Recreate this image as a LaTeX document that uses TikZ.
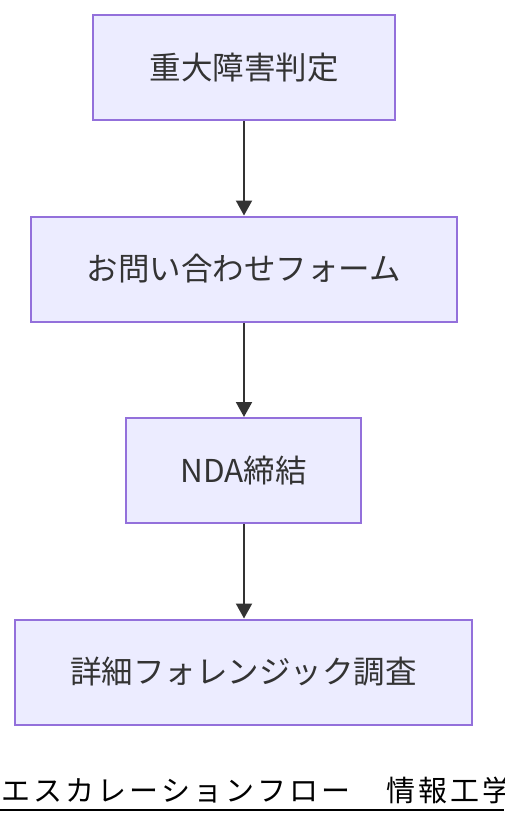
\documentclass[tikz,border=0pt]{standalone}
\usepackage{fontspec}
\setmainfont{Noto Sans CJK JP}
\newfontfamily\capfont[LetterSpace=11]{Noto Sans CJK JP}
\usetikzlibrary{arrows.meta}
\definecolor{boxfill}{HTML}{ECECFF}
\definecolor{boxline}{HTML}{9370DB}
\definecolor{txt}{HTML}{333333}
\tikzset{
  stepbox/.style={draw=boxline, fill=boxfill, line width=2pt, minimum height=105pt, inner sep=0pt, text=txt, font=\fontsize{31.5}{36}\selectfont},
  conn/.style={draw=txt, line width=2pt, -{Triangle[length=15pt,width=16pt]}},
}
\begin{document}
\begin{tikzpicture}[x=1pt,y=-1pt]
\useasboundingbox (0,0) rectangle (504,828);
\node[stepbox, minimum width=302pt] (a) at (244,67.5) {重大障害判定};
\node[stepbox, minimum width=426pt] (b) at (244,269) {お問い合わせフォーム};
\node[stepbox, minimum width=235pt] (c) at (243.5,470.5) {NDA締結};
\node[stepbox, minimum width=457pt] (d) at (243.5,672) {詳細フォレンジック調査};
\draw[conn] (a.south -| 244,0) -- (b.north -| 244,0);
\draw[conn] (b.south -| 244,0) -- (c.north -| 244,0);
\draw[conn] (c.south -| 244,0) -- (d.north -| 244,0);
\node[anchor=base west, inner sep=0pt, font=\capfont\fontsize{29}{32}\selectfont, text=black] (cap) at (1,801) {エスカレーションフロー　情報工学};
\coordinate (ul) at (0,810);
\coordinate (ur) at (504,810);
\draw[line width=2pt, black] (ul) -- (ur);
\end{tikzpicture}
\end{document}
